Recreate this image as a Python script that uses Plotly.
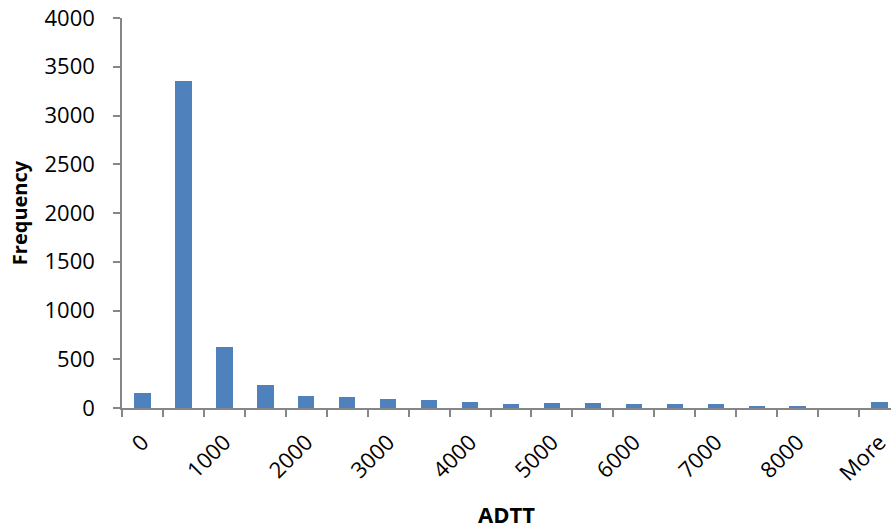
import plotly.graph_objects as go

categories = ["0", "500", "1000", "1500", "2000", "2500", "3000", "3500", "4000",
              "4500", "5000", "5500", "6000", "6500", "7000", "7500", "8000", "8500", "More"]
frequency = [150, 3350, 623, 236, 123, 113, 92, 82, 58, 38, 55, 55, 38, 38, 38, 17, 15, 0, 62]
tick_labels = ["0", "1000", "2000", "3000", "4000", "5000", "6000", "7000", "8000", "More"]

xpos = list(range(len(categories)))
label_pos = [i for i, c in enumerate(categories) if c in tick_labels]

fig = go.Figure(go.Bar(
    x=xpos, y=frequency, width=0.4,
    marker=dict(color="#4F81BD", line=dict(width=0)),
    hovertext=categories,
))

axis_color = "#868686"
font_family = "'Open Sans', Lato, sans-serif"

fig.update_layout(
    width=891, height=529,
    margin=dict(l=122, r=0, t=18, b=121),
    paper_bgcolor="white", plot_bgcolor="white",
    showlegend=False,
    font=dict(family=font_family, color="black", size=22),
    bargap=0,
)
fig.update_xaxes(
    range=[-0.5, 18.28], automargin=False,
    tickmode="array", tickvals=label_pos, ticktext=tick_labels,
    tickangle=-45, ticks="", ticklen=0, ticklabelstandoff=11,
    ticklabeloverflow="allow",
    showline=True, linecolor=axis_color, linewidth=1.5,
    showgrid=False, zeroline=False,
    tickfont=dict(size=22, family=font_family),
    minor=dict(tickvals=[i - 0.5 for i in range(len(categories) + 1)],
               ticks="outside", ticklen=7, tickcolor=axis_color, tickwidth=1.5, showgrid=False),
    title=dict(text="<b>ADTT</b>", font=dict(size=22, family=font_family), standoff=25),
)
fig.update_yaxes(
    range=[0, 4000], dtick=500, automargin=False,
    ticks="outside", ticklen=7, tickcolor=axis_color, tickwidth=1.5, ticklabelstandoff=14,
    showline=True, linecolor=axis_color, linewidth=1.5,
    showgrid=False, zeroline=False,
    tickfont=dict(size=22, family=font_family),
    title=dict(text="<b>Frequency</b>", font=dict(size=20, family=font_family), standoff=12),
)

fig.write_html("out.html", config={"displayModeBar": False},
               post_script="document.body.style.margin='0';")
